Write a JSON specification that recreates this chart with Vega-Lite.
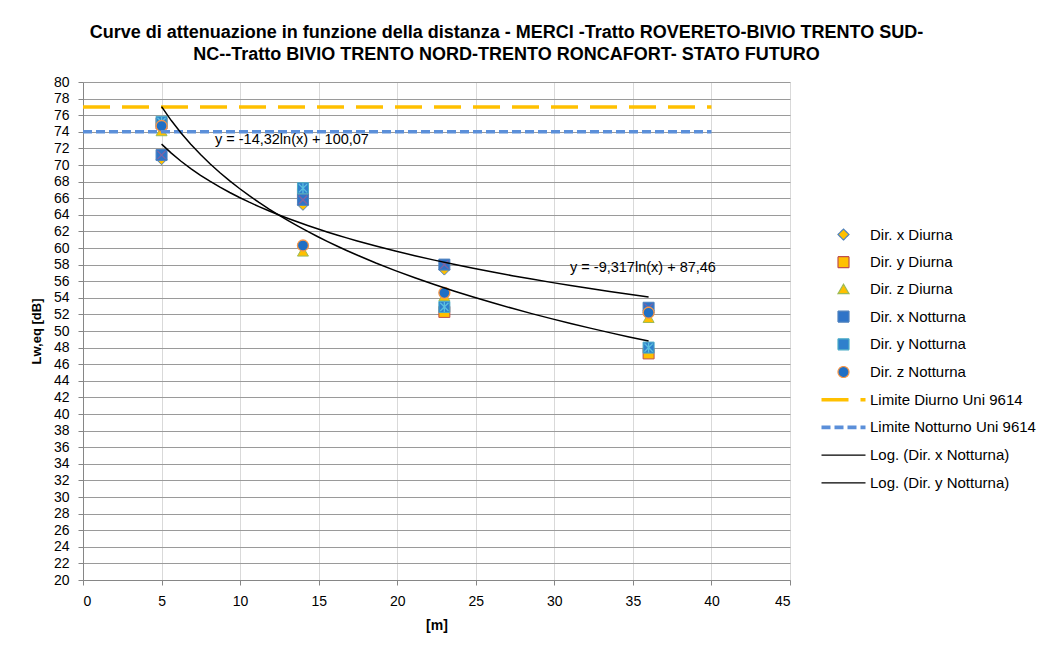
{
  "$schema": "https://vega.github.io/schema/vega-lite/v6.json",
  "width": 707,
  "height": 498,
  "autosize": {"type": "none"},
  "padding": {"left": 83, "top": 82, "right": 267, "bottom": 69},
  "background": "white",
  "title": {
    "text": ["Curve di attenuazione in funzione della distanza - MERCI  -Tratto ROVERETO-BIVIO  TRENTO SUD-", "NC--Tratto BIVIO  TRENTO NORD-TRENTO RONCAFORT-  STATO FUTURO"],
    "font": "Liberation Sans",
    "fontSize": 18,
    "fontWeight": "bold",
    "color": "#000000",
    "anchor": "middle",
    "frame": "group",
    "dx": 70,
    "offset": 11,
    "lineHeight": 22
  },
  "datasets": {
    "punti": [
      {"serie": "Dir. x Diurna", "x": 5, "y": 70.7},
      {"serie": "Dir. x Diurna", "x": 14, "y": 65.2},
      {"serie": "Dir. x Diurna", "x": 23, "y": 57.4},
      {"serie": "Dir. x Diurna", "x": 36, "y": 52.5},
      {"serie": "Dir. y Diurna", "x": 5, "y": 75.0},
      {"serie": "Dir. y Diurna", "x": 14, "y": 66.5},
      {"serie": "Dir. y Diurna", "x": 23, "y": 52.3},
      {"serie": "Dir. y Diurna", "x": 36, "y": 47.3},
      {"serie": "Dir. z Diurna", "x": 5, "y": 74.1},
      {"serie": "Dir. z Diurna", "x": 14, "y": 59.6},
      {"serie": "Dir. z Diurna", "x": 23, "y": 54.2},
      {"serie": "Dir. z Diurna", "x": 36, "y": 51.6},
      {"serie": "Dir. x Notturna", "x": 5, "y": 71.2, "trend": "Log. (Dir. x Notturna)"},
      {"serie": "Dir. x Notturna", "x": 14, "y": 65.8, "trend": "Log. (Dir. x Notturna)"},
      {"serie": "Dir. x Notturna", "x": 23, "y": 58.0, "trend": "Log. (Dir. x Notturna)"},
      {"serie": "Dir. x Notturna", "x": 36, "y": 52.8, "trend": "Log. (Dir. x Notturna)"},
      {"serie": "Dir. y Notturna", "x": 5, "y": 75.2, "trend": "Log. (Dir. y Notturna)"},
      {"serie": "Dir. y Notturna", "x": 14, "y": 67.2, "trend": "Log. (Dir. y Notturna)"},
      {"serie": "Dir. y Notturna", "x": 23, "y": 52.9, "trend": "Log. (Dir. y Notturna)"},
      {"serie": "Dir. y Notturna", "x": 36, "y": 48.0, "trend": "Log. (Dir. y Notturna)"},
      {"serie": "Dir. z Notturna", "x": 5, "y": 74.7},
      {"serie": "Dir. z Notturna", "x": 14, "y": 60.3},
      {"serie": "Dir. z Notturna", "x": 23, "y": 54.6},
      {"serie": "Dir. z Notturna", "x": 36, "y": 52.2}
    ],
    "limiti": [
      {"serie": "Limite Diurno Uni 9614", "x": 0, "y": 77},
      {"serie": "Limite Diurno Uni 9614", "x": 40, "y": 77},
      {"serie": "Limite Notturno Uni 9614", "x": 0, "y": 74},
      {"serie": "Limite Notturno Uni 9614", "x": 40, "y": 74}
    ],
    "equazioni": [
      {"testo": "y = -14,32ln(x) + 100,07", "x": 8.4, "y": 73.0},
      {"testo": "y = -9,317ln(x) + 87,46", "x": 31.0, "y": 57.6}
    ]
  },
  "layer": [
    {
      "data": {"name": "punti"},
      "transform": [{"filter": "datum.serie !== 'Dir. z Notturna'"}],
      "mark": {"type": "point", "filled": true, "size": 121, "strokeWidth": 1, "opacity": 1, "fillOpacity": 1, "strokeOpacity": 1},
      "encoding": {
        "x": {
          "field": "x", "type": "quantitative",
          "scale": {"domain": [0, 45], "nice": false, "zero": false},
          "axis": {
            "title": "[m]",
            "values": [0, 5, 10, 15, 20, 25, 30, 35, 40, 45],
            "tickCount": 20,
            "grid": true,
            "gridColor": "#D9D9D9",
            "domainColor": "#868686",
            "tickColor": "#868686",
            "tickSize": 5,
            "labelFont": "Liberation Sans",
            "labelFontSize": 14,
            "labelColor": "#000000",
            "labelPadding": 9,
            "titleFont": "Liberation Sans",
            "titleFontSize": 14,
            "titleFontWeight": "bold",
            "titleColor": "#000000",
            "titlePadding": 10
          }
        },
        "y": {
          "field": "y", "type": "quantitative",
          "scale": {"domain": [20, 80], "nice": false, "zero": false},
          "axis": {
            "title": "Lw,eq [dB]",
            "values": [20, 22, 24, 26, 28, 30, 32, 34, 36, 38, 40, 42, 44, 46, 48, 50, 52, 54, 56, 58, 60, 62, 64, 66, 68, 70, 72, 74, 76, 78, 80],
            "tickCount": 40,
            "labelOverlap": false,
            "grid": true,
            "gridColor": "#9A9A9A",
            "domainColor": "#868686",
            "tickColor": "#868686",
            "tickSize": 5,
            "labelFont": "Liberation Sans",
            "labelFontSize": 14,
            "labelColor": "#000000",
            "labelPadding": 9,
            "titleFont": "Liberation Sans",
            "titleFontSize": 13,
            "titleFontWeight": "bold",
            "titleColor": "#000000",
            "titlePadding": 10
          }
        },
        "shape": {
          "field": "serie", "type": "nominal",
          "scale": {
            "domain": ["Dir. x Diurna", "Dir. y Diurna", "Dir. z Diurna", "Dir. x Notturna", "Dir. y Notturna", "Dir. z Notturna", "Limite Diurno Uni 9614", "Limite Notturno Uni 9614", "Log. (Dir. x Notturna)", "Log. (Dir. y Notturna)"],
            "range": ["diamond", "square", "triangle-up", "square", "square", "circle", "M-4,-0.22H4M-4,0H4M-4,0.22H4M0,-1L0,-1M0,1L0,1", "M-4,-0.22H4M-4,0H4M-4,0.22H4M0,-1L0,-1M0,1L0,1", "M-4,0H4M0,-1L0,-1M0,1L0,1", "M-4,0H4M0,-1L0,-1M0,1L0,1"]
          },
          "legend": {"title": null}
        },
        "fill": {
          "field": "serie", "type": "nominal",
          "scale": {
            "domain": ["Dir. x Diurna", "Dir. y Diurna", "Dir. z Diurna", "Dir. x Notturna", "Dir. y Notturna", "Dir. z Notturna", "Limite Diurno Uni 9614", "Limite Notturno Uni 9614", "Log. (Dir. x Notturna)", "Log. (Dir. y Notturna)"],
            "range": ["#FFC000", "#FFC000", "#FFC000", "#2F74C8", "#2F80CC", "#1F6FC5", "transparent", "transparent", "transparent", "transparent"]
          },
          "legend": {"title": null}
        },
        "stroke": {
          "field": "serie", "type": "nominal",
          "scale": {
            "domain": ["Dir. x Diurna", "Dir. y Diurna", "Dir. z Diurna", "Dir. x Notturna", "Dir. y Notturna", "Dir. z Notturna", "Limite Diurno Uni 9614", "Limite Notturno Uni 9614", "Log. (Dir. x Notturna)", "Log. (Dir. y Notturna)"],
            "range": ["#4F81BD", "#C0504D", "#9BBB59", "#4F81BD", "#4BACC6", "#F79646", "#FFC000", "#5B8FD9", "#000000", "#000000"]
          },
          "legend": {"title": null}
        }
      }
    },
    {
      "data": {"name": "punti"},
      "transform": [{"filter": "datum.serie === 'Dir. x Notturna'"}],
      "mark": {"type": "point", "filled": false, "size": 121, "shape": "M-0.75,-0.75L0.75,0.75M-0.75,0.75L0.75,-0.75", "stroke": "#8064A2", "strokeWidth": 1.3, "opacity": 1},
      "encoding": {
        "x": {"field": "x", "type": "quantitative"},
        "y": {"field": "y", "type": "quantitative"}
      }
    },
    {
      "data": {"name": "punti"},
      "transform": [{"filter": "datum.serie === 'Dir. y Notturna'"}],
      "mark": {"type": "point", "filled": false, "size": 121, "shape": "M-0.75,-0.75L0.75,0.75M-0.75,0.75L0.75,-0.75M0,-0.9L0,0.9", "stroke": "#5BC0DE", "strokeWidth": 1.3, "opacity": 1},
      "encoding": {
        "x": {"field": "x", "type": "quantitative"},
        "y": {"field": "y", "type": "quantitative"}
      }
    },
    {
      "data": {"name": "punti"},
      "transform": [{"filter": "datum.serie === 'Dir. z Notturna'"}],
      "mark": {"type": "point", "filled": true, "size": 121, "strokeWidth": 1.3, "opacity": 1, "fillOpacity": 1, "strokeOpacity": 1},
      "encoding": {
        "x": {"field": "x", "type": "quantitative"},
        "y": {"field": "y", "type": "quantitative"},
        "shape": {
          "field": "serie", "type": "nominal",
          "scale": {
            "domain": ["Dir. x Diurna", "Dir. y Diurna", "Dir. z Diurna", "Dir. x Notturna", "Dir. y Notturna", "Dir. z Notturna", "Limite Diurno Uni 9614", "Limite Notturno Uni 9614", "Log. (Dir. x Notturna)", "Log. (Dir. y Notturna)"],
            "range": ["diamond", "square", "triangle-up", "square", "square", "circle", "M-4,-0.22H4M-4,0H4M-4,0.22H4M0,-1L0,-1M0,1L0,1", "M-4,-0.22H4M-4,0H4M-4,0.22H4M0,-1L0,-1M0,1L0,1", "M-4,0H4M0,-1L0,-1M0,1L0,1", "M-4,0H4M0,-1L0,-1M0,1L0,1"]
          },
          "legend": {"title": null}
        },
        "fill": {
          "field": "serie", "type": "nominal",
          "scale": {
            "domain": ["Dir. x Diurna", "Dir. y Diurna", "Dir. z Diurna", "Dir. x Notturna", "Dir. y Notturna", "Dir. z Notturna", "Limite Diurno Uni 9614", "Limite Notturno Uni 9614", "Log. (Dir. x Notturna)", "Log. (Dir. y Notturna)"],
            "range": ["#FFC000", "#FFC000", "#FFC000", "#2F74C8", "#2F80CC", "#1F6FC5", "transparent", "transparent", "transparent", "transparent"]
          },
          "legend": {"title": null}
        },
        "stroke": {
          "field": "serie", "type": "nominal",
          "scale": {
            "domain": ["Dir. x Diurna", "Dir. y Diurna", "Dir. z Diurna", "Dir. x Notturna", "Dir. y Notturna", "Dir. z Notturna", "Limite Diurno Uni 9614", "Limite Notturno Uni 9614", "Log. (Dir. x Notturna)", "Log. (Dir. y Notturna)"],
            "range": ["#4F81BD", "#C0504D", "#9BBB59", "#4F81BD", "#4BACC6", "#F79646", "#FFC000", "#5B8FD9", "#000000", "#000000"]
          },
          "legend": {"title": null}
        }
      }
    },
    {
      "data": {"name": "limiti"},
      "mark": {"type": "line", "strokeWidth": 3.5, "strokeCap": "butt"},
      "encoding": {
        "x": {"field": "x", "type": "quantitative"},
        "y": {"field": "y", "type": "quantitative"},
        "stroke": {
          "field": "serie", "type": "nominal",
          "scale": {
            "domain": ["Dir. x Diurna", "Dir. y Diurna", "Dir. z Diurna", "Dir. x Notturna", "Dir. y Notturna", "Dir. z Notturna", "Limite Diurno Uni 9614", "Limite Notturno Uni 9614", "Log. (Dir. x Notturna)", "Log. (Dir. y Notturna)"],
            "range": ["#4F81BD", "#C0504D", "#9BBB59", "#4F81BD", "#4BACC6", "#F79646", "#FFC000", "#5B8FD9", "#000000", "#000000"]
          },
          "legend": {"title": null}
        },
        "strokeDash": {
          "field": "serie", "type": "nominal",
          "scale": {
            "domain": ["Dir. x Diurna", "Dir. y Diurna", "Dir. z Diurna", "Dir. x Notturna", "Dir. y Notturna", "Dir. z Notturna", "Limite Diurno Uni 9614", "Limite Notturno Uni 9614", "Log. (Dir. x Notturna)", "Log. (Dir. y Notturna)"],
            "range": [[1, 0], [1, 0], [1, 0], [1, 0], [1, 0], [1, 0], [27, 12], [9, 4], [1, 0], [1, 0]]
          },
          "legend": {"title": null}
        }
      }
    },
    {
      "data": {"name": "punti"},
      "transform": [
        {"filter": "isValid(datum.trend)"},
        {"regression": "y", "on": "x", "method": "log", "groupby": ["trend"]}
      ],
      "mark": {"type": "line", "strokeWidth": 1.5},
      "encoding": {
        "x": {"field": "x", "type": "quantitative"},
        "y": {"field": "y", "type": "quantitative"},
        "stroke": {
          "field": "trend", "type": "nominal",
          "scale": {
            "domain": ["Dir. x Diurna", "Dir. y Diurna", "Dir. z Diurna", "Dir. x Notturna", "Dir. y Notturna", "Dir. z Notturna", "Limite Diurno Uni 9614", "Limite Notturno Uni 9614", "Log. (Dir. x Notturna)", "Log. (Dir. y Notturna)"],
            "range": ["#4F81BD", "#C0504D", "#9BBB59", "#4F81BD", "#4BACC6", "#F79646", "#FFC000", "#5B8FD9", "#000000", "#000000"]
          },
          "legend": {"title": null}
        }
      }
    },
    {
      "data": {"name": "equazioni"},
      "mark": {"type": "text", "align": "left", "baseline": "middle", "font": "Liberation Sans", "fontSize": 14.5, "color": "#000000"},
      "encoding": {
        "x": {"field": "x", "type": "quantitative"},
        "y": {"field": "y", "type": "quantitative"},
        "text": {"field": "testo", "type": "nominal"}
      }
    }
  ],
  "config": {
    "view": {"stroke": null},
    "legend": {
      "orient": "none",
      "legendX": 753,
      "legendY": 145,
      "padding": 0,
      "labelFont": "Liberation Sans",
      "labelFontSize": 15,
      "labelColor": "#000000",
      "labelOffset": 19,
      "symbolSize": 121,
      "symbolOpacity": 1,
      "symbolStrokeWidth": 1.2,
      "rowPadding": 10.7,
      "labelLimit": 300
    }
  }
}
